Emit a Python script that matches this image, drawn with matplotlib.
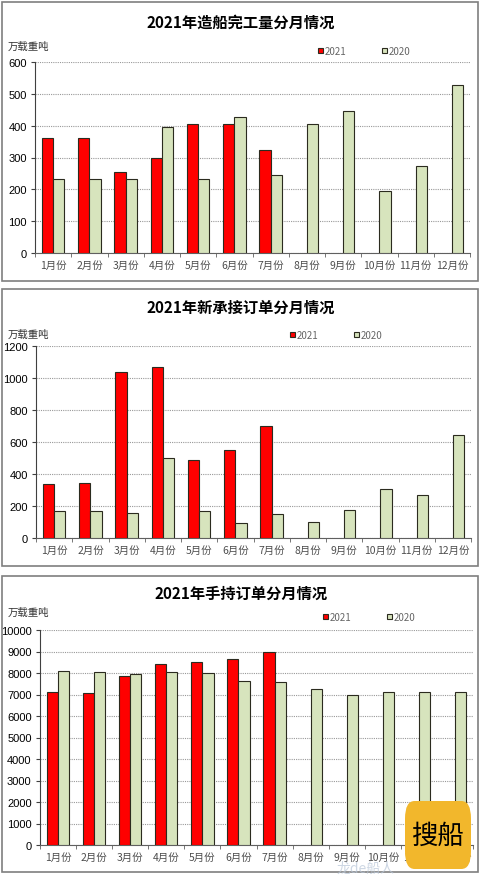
import matplotlib
matplotlib.use('Agg')
import matplotlib.pyplot as plt
from matplotlib.patches import Rectangle, FancyBboxPatch
import numpy as np

plt.rcParams['font.family'] = ['Noto Sans CJK SC', 'DejaVu Sans']

# data
months = ['1月份', '2月份', '3月份', '4月份', '5月份', '6月份',
          '7月份', '8月份', '9月份', '10月份', '11月份', '12月份']

done_2021 = [360, 360, 255, 300, 405, 405, 325]
done_2020 = [232, 233, 232, 397, 233, 426, 244, 406, 445, 194, 272, 528]

new_2021 = [338, 342, 1039, 1068, 488, 551, 701]
new_2020 = [167, 167, 158, 501, 171, 92, 152, 102, 173, 305, 271, 643]

hold_2021 = [7100, 7056, 7847, 8419, 8512, 8651, 8992]
hold_2020 = [8109, 8047, 7969, 8062, 8000, 7643, 7566, 7271, 6977, 7102, 7100, 7132]

titles = ['2021年造船完工量分月情况', '2021年新承接订单分月情况', '2021年手持订单分月情况']
W, H = 482, 879

RED = '#FF0000'
GREEN = '#D7E4BD'
EDGE = '#2b2b1f'

fig = plt.figure(figsize=(W / 100, H / 100), dpi=100)


def px_axes(left, right, top, bottom):
    return fig.add_axes([left / W, (H - bottom) / H, (right - left) / W, (bottom - top) / H])


def panel_box(top, bottom):
    fig.patches.append(Rectangle((2 / W, (H - bottom) / H), 476 / W, (bottom - top) / H,
                                 transform=fig.transFigure, fill=False,
                                 edgecolor='#7f7f7f', lw=1.2))


panels = [
    # box top/bottom, axes l r t b, title y, unit y, legend y, legend x, ymax, step, data
    (3, 282, (35, 470, 63, 254), 23, 47, 52, 318, 600, 100, done_2021, done_2020),
    (290, 567, (36, 471, 347, 539), 308, 335, 336, 290, 1200, 200, new_2021, new_2020),
    (577, 873, (40, 473, 631, 846), 594, 613, 618, 323, 10000, 1000, hold_2021, hold_2020),
]

x = np.arange(len(months))
bw = 0.31

for i, (bt, bb, box, ty, uy, ly, lx, ymax, step, s21, s20) in enumerate(panels):
    panel_box(bt, bb)
    ax = px_axes(*box)
    r = ax.bar(x[:len(s21)] - bw / 2, s21, bw, color=RED, edgecolor=EDGE, lw=0.8, zorder=3)
    g = ax.bar(x + bw / 2, s20, bw, color=GREEN, edgecolor=EDGE, lw=0.8, zorder=3)
    ax.set_xlim(-0.5, 11.5)
    ax.set_ylim(0, ymax)
    ax.set_yticks(np.arange(0, ymax + 1, step))
    ax.yaxis.grid(True, color='#999999', lw=0.8, linestyle=(0, (1, 1)), zorder=0)
    ax.set_axisbelow(True)
    for s in ['top', 'right']:
        ax.spines[s].set_visible(False)
    ax.spines['left'].set_color('#404040')
    ax.spines['bottom'].set_color('#606060')
    ax.set_xticks(x)
    ax.set_xticklabels(months, fontsize=7.5, color='#4d4d4d')
    ax.set_xticks(np.arange(-0.5, 12, 1), minor=True)
    ax.tick_params(axis='x', which='major', length=0, pad=5)
    ax.tick_params(axis='x', which='minor', length=3, color='#606060')
    ax.tick_params(axis='y', length=3, labelsize=8, color='#404040', pad=3)
    for t in ax.get_yticklabels():
        t.set_fontfamily(['Liberation Sans', 'DejaVu Sans'])

    fig.text(0.5, (H - ty) / H, titles[i], ha='center', va='center',
             fontsize=11, fontweight='bold')
    fig.text(8 / W, (H - uy) / H, '万载重吨', ha='left', va='center', fontsize=7.5, color='#333333')
    ax.legend([r, g], ['2021', '2020'], ncol=2, frameon=False, loc='center left',
              bbox_to_anchor=(lx / W, (H - ly) / H), bbox_transform=fig.transFigure,
              handlelength=0.55, handleheight=0.55, handletextpad=0.15, columnspacing=3.6,
              fontsize=7, labelcolor='#666666', borderaxespad=0, borderpad=0)

# watermark in the bottom right corner
fig.patches.append(FancyBboxPatch((405 / W, (H - 870) / H), 66 / W, 68 / H,
                                  boxstyle='round,pad=0,rounding_size=0.02',
                                  transform=fig.transFigure, facecolor='#F2B72C',
                                  edgecolor='none', zorder=10))
fig.text(438 / W, (H - 836) / H, '搜船', ha='center', va='center', fontsize=19,
         color='black', zorder=11)
fig.text(366 / W, (H - 869) / H, '龙de船人', ha='center', va='center', fontsize=10,
         color='#b8c6d8', alpha=0.7, zorder=11)

fig.savefig('out.png', dpi=100)
